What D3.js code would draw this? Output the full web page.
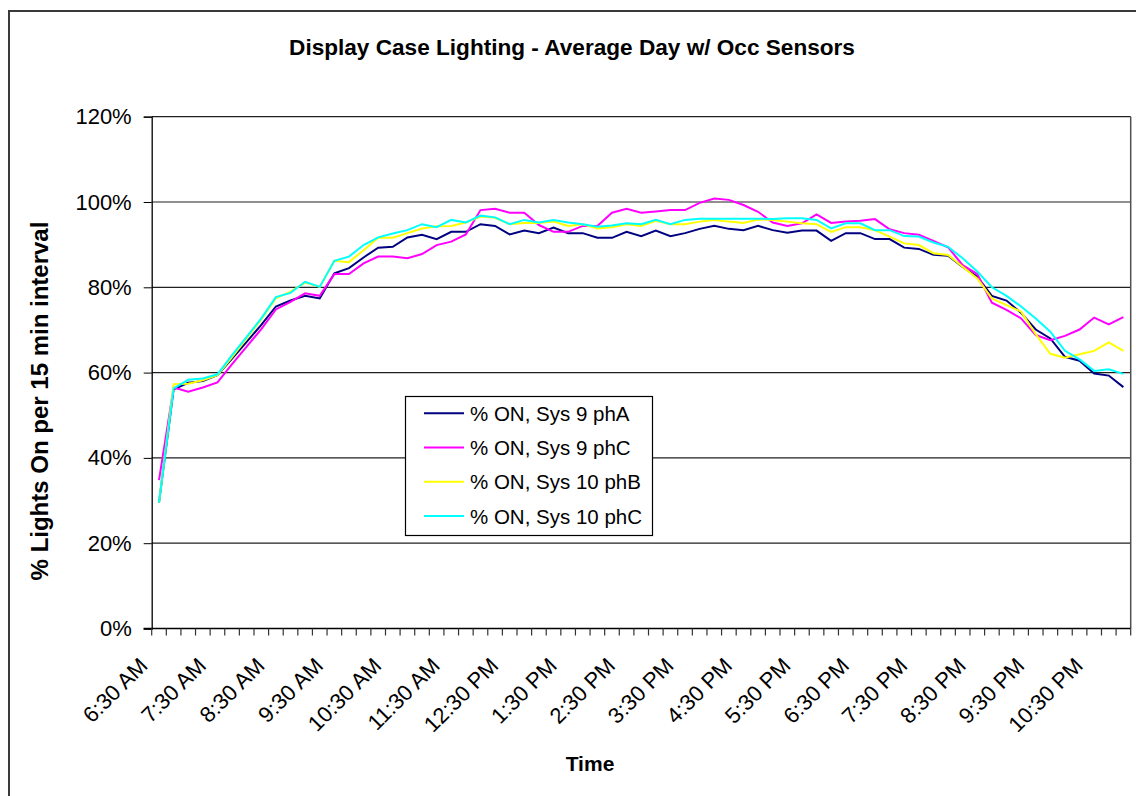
<!DOCTYPE html>
<html>
<head>
<meta charset="utf-8">
<script src="https://cdn.jsdelivr.net/npm/d3@7"></script>
<style>
  html, body { margin: 0; padding: 0; background: #fff; }
  svg { display: block; font-family: Arial, "Liberation Sans", sans-serif; }
</style>
</head>
<body>
<svg id="chart" width="1136" height="796"></svg>
<script>
// 15-minute intervals, 6:30 AM through 11:00 PM
const categories = [
  "6:30 AM","6:45 AM","7:00 AM","7:15 AM","7:30 AM","7:45 AM","8:00 AM","8:15 AM",
  "8:30 AM","8:45 AM","9:00 AM","9:15 AM","9:30 AM","9:45 AM","10:00 AM","10:15 AM",
  "10:30 AM","10:45 AM","11:00 AM","11:15 AM","11:30 AM","11:45 AM","12:00 PM","12:15 PM",
  "12:30 PM","12:45 PM","1:00 PM","1:15 PM","1:30 PM","1:45 PM","2:00 PM","2:15 PM",
  "2:30 PM","2:45 PM","3:00 PM","3:15 PM","3:30 PM","3:45 PM","4:00 PM","4:15 PM",
  "4:30 PM","4:45 PM","5:00 PM","5:15 PM","5:30 PM","5:45 PM","6:00 PM","6:15 PM",
  "6:30 PM","6:45 PM","7:00 PM","7:15 PM","7:30 PM","7:45 PM","8:00 PM","8:15 PM",
  "8:30 PM","8:45 PM","9:00 PM","9:15 PM","9:30 PM","9:45 PM","10:00 PM","10:15 PM",
  "10:30 PM","10:45 PM","11:00 PM"
];

// Labels shown on the time axis (one per hour)
const tickLabels = [
  "6:30 AM","7:30 AM","8:30 AM","9:30 AM","10:30 AM","11:30 AM","12:30 PM","1:30 PM",
  "2:30 PM","3:30 PM","4:30 PM","5:30 PM","6:30 PM","7:30 PM","8:30 PM","9:30 PM","10:30 PM"
];

const yTicks = [0, 0.2, 0.4, 0.6, 0.8, 1.0, 1.2];

// Percent of lights on per 15 min interval
const sys9phA = [
  29.5,56.1,57.6,58.0,59.4,63.3,67.2,71.2,75.5,76.9,78.0,77.4,83.3,84.5,87.0,89.3,
  89.5,91.7,92.3,91.3,93.0,93.0,94.8,94.4,92.4,93.3,92.7,94.0,92.7,92.7,91.6,91.6,
  93.0,92.0,93.3,92.0,92.7,93.7,94.4,93.7,93.4,94.4,93.4,92.8,93.3,93.3,90.9,92.7,
  92.7,91.3,91.3,89.3,89.0,87.6,87.4,84.8,82.5,78.0,76.9,74.0,70.1,68.0,63.7,62.8,
  59.8,59.3,56.6
];
const sys9phC = [
  34.8,56.5,55.5,56.5,57.7,62.0,66.1,70.2,74.8,76.6,78.6,78.0,83.1,83.1,85.6,87.2,
  87.2,86.8,87.8,89.9,90.7,92.4,98.1,98.4,97.5,97.5,94.6,93.0,93.0,94.4,94.4,97.5,
  98.4,97.5,97.8,98.1,98.1,99.8,100.8,100.5,99.3,97.7,95.2,94.4,95.0,97.1,95.1,95.4,
  95.6,96.0,93.6,92.7,92.3,90.9,89.4,85.2,83.1,76.4,74.7,72.7,68.8,67.6,68.6,70.1,
  72.9,71.3,73.0
];
const sys10phB = [
  29.5,57.3,57.4,58.2,59.4,63.6,68.0,72.5,77.4,79.0,81.1,80.1,86.2,85.9,88.7,91.6,
  91.6,92.7,93.8,94.3,94.4,95.2,96.6,96.3,94.8,95.1,95.1,95.4,94.4,94.8,93.8,94.1,
  94.8,94.4,95.6,94.8,94.8,95.4,95.8,95.4,95.1,95.9,95.8,95.4,95.0,94.8,93.0,94.1,
  94.1,93.4,91.9,90.3,89.9,88.0,87.6,84.8,82.1,77.4,75.8,74.3,69.0,64.4,63.5,64.3,
  65.1,67.1,65.1
];
const sys10phC = [
  29.5,56.3,58.3,58.6,59.6,64.1,68.4,72.7,77.7,78.7,81.3,80.1,86.2,87.2,89.9,91.7,
  92.6,93.4,94.8,94.1,95.8,95.2,96.8,96.4,94.8,95.8,95.2,95.8,95.2,94.8,94.2,94.5,
  95.0,94.8,95.8,94.8,95.8,96.1,96.1,96.1,96.1,96.1,96.0,96.2,96.2,95.8,93.8,95.0,
  95.0,93.4,93.4,92.0,91.9,90.5,89.5,86.8,83.7,80.0,78.0,75.5,72.7,69.6,65.1,63.1,
  60.4,60.8,59.7
];

const seriesNames = ["% ON, Sys 9 phA", "% ON, Sys 9 phC", "% ON, Sys 10 phB", "% ON, Sys 10 phC"];
const seriesColors = ["#000080", "#FF00FF", "#FFFF00", "#00FFFF"];
const seriesValues = [sys9phA, sys9phC, sys10phB, sys10phC];

const series = seriesNames.map((name, k) => ({
  name, color: seriesColors[k], values: seriesValues[k].map(v => v / 100)
}));

const svg = d3.select("#chart");
const plot = { left: 151.7, right: 1130.7, top: 116.7, bottom: 628.5 };

const x = d3.scaleBand().domain(categories).range([plot.left, plot.right]).padding(0);
const y = d3.scaleLinear().domain([0, 1.2]).range([plot.bottom, plot.top]);
const cx = c => x(c) + x.bandwidth() / 2;

// Outer chart frame
svg.append("rect")
  .attr("x", 9).attr("y", 11).attr("width", 1140).attr("height", 800)
  .attr("fill", "#fff").attr("stroke", "#3a3a3a").attr("stroke-width", 2);

// Title
svg.append("text")
  .attr("x", 572).attr("y", 54.5)
  .attr("text-anchor", "middle")
  .attr("font-weight", "bold").attr("font-size", 22.6)
  .text("Display Case Lighting - Average Day w/ Occ Sensors");

// Horizontal gridlines
svg.append("g").selectAll("line")
  .data(yTicks.filter(t => t > 0))
  .join("line")
  .attr("x1", plot.left).attr("x2", plot.right)
  .attr("y1", d => y(d)).attr("y2", d => y(d))
  .attr("stroke", "#202020").attr("stroke-width", 1.2);

// Plot area right edge
svg.append("line")
  .attr("x1", plot.right).attr("x2", plot.right)
  .attr("y1", plot.top).attr("y2", plot.bottom)
  .attr("stroke", "#505050").attr("stroke-width", 1.5);

// Y axis
const yAxis = d3.axisLeft(y)
  .tickValues(yTicks)
  .tickFormat(d3.format(".0%"))
  .tickSize(8)
  .tickPadding(12);
const gy = svg.append("g").attr("transform", `translate(${plot.left},0)`).call(yAxis);
gy.select(".domain").attr("stroke", "#000").attr("stroke-width", 1.3);
gy.selectAll(".tick line").attr("stroke", "#000");
gy.selectAll(".tick text")
  .attr("font-size", 22).attr("font-family", "Arial, 'Liberation Sans', sans-serif")
  .attr("fill", "#000");

// X axis line and tick marks between categories
svg.append("line")
  .attr("x1", plot.left - 8).attr("x2", plot.right)
  .attr("y1", plot.bottom).attr("y2", plot.bottom)
  .attr("stroke", "#000").attr("stroke-width", 1.3);

const boundaries = categories.map(c => x(c)).concat([plot.right]);
svg.append("g").selectAll("line")
  .data(boundaries)
  .join("line")
  .attr("x1", d => d).attr("x2", d => d)
  .attr("y1", plot.bottom).attr("y2", plot.bottom + 7)
  .attr("stroke", "#333").attr("stroke-width", 1.2);

// Rotated time labels
svg.append("g").selectAll("text")
  .data(tickLabels)
  .join("text")
  .attr("transform", d => `translate(${cx(d) - 10},667) rotate(-45)`)
  .attr("text-anchor", "end")
  .attr("font-size", 22)
  .text(d => d);

// Axis titles
svg.append("text")
  .attr("x", 590).attr("y", 771)
  .attr("text-anchor", "middle")
  .attr("font-weight", "bold").attr("font-size", 21)
  .text("Time");

svg.append("text")
  .attr("transform", "translate(48,401) rotate(-90)")
  .attr("text-anchor", "middle")
  .attr("font-weight", "bold").attr("font-size", 24)
  .text("% Lights On per 15 min interval");

// Series lines
const line = d3.line()
  .x((d, i) => cx(categories[i]))
  .y(d => y(d));

svg.append("g").selectAll("path")
  .data(series)
  .join("path")
  .attr("d", s => line(s.values))
  .attr("fill", "none")
  .attr("stroke", s => s.color)
  .attr("stroke-width", 2)
  .attr("stroke-linejoin", "miter");

// Legend
const legend = svg.append("g");
legend.append("rect")
  .attr("x", 405.5).attr("y", 396.5).attr("width", 247).attr("height", 139)
  .attr("fill", "#fff").attr("stroke", "#000").attr("stroke-width", 1.2);

const rowY = d3.scalePoint().domain(seriesNames).range([413.3, 516]);
const rows = legend.selectAll("g.row").data(series).join("g").attr("class", "row")
  .attr("transform", s => `translate(0,${rowY(s.name)})`);
rows.append("line")
  .attr("x1", 424).attr("x2", 464).attr("y1", 0).attr("y2", 0)
  .attr("stroke", s => s.color).attr("stroke-width", 2);
rows.append("text")
  .attr("x", 470).attr("y", 7.7)
  .attr("font-size", 20.5)
  .text(s => s.name);
</script>
</body>
</html>
